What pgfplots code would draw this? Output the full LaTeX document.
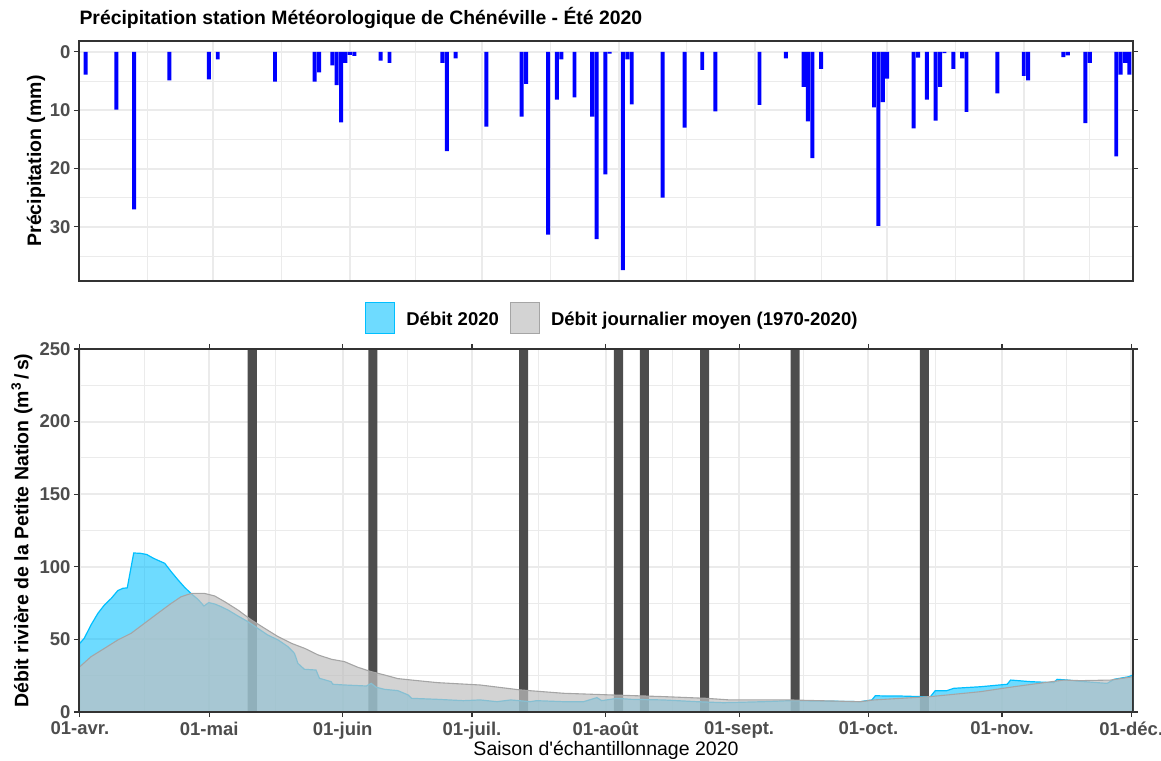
\documentclass[border=0pt]{standalone}
\usepackage{fontspec}
\setmainfont{Liberation Sans}
\usepackage{pgfplots}
\usepackage{pgfplotstable}
\pgfplotsset{compat=1.18}
\definecolor{deepsky}{RGB}{0,191,255}
\definecolor{meangray}{RGB}{192,192,192}
\definecolor{meanline}{RGB}{165,165,165}
\definecolor{darkbar}{RGB}{77,77,77}
\definecolor{gridc}{RGB}{235,235,235}
\definecolor{framec}{RGB}{51,51,51}
\definecolor{tickc}{RGB}{77,77,77}

\pgfplotstableread{
day mm
1 3.9
8 9.9
12 27.0
20 4.9
29 4.7
31 1.3
44 5.1
53 5.1
54 3.5
57 2.3
58 5.7
59 12.1
60 1.9
61 0.5
62 0.7
68 1.5
70 1.9
82 1.9
83 17.0
85 1.1
92 12.8
100 11.1
101 5.5
106 31.3
108 8.2
109 1.3
112 7.8
116 11.1
117 32.1
119 21.0
120 0.3
123 37.4
124 1.3
125 9.0
132 25.0
137 13.0
141 3.1
144 10.2
154 9.1
160 1.1
164 6.0
165 11.9
166 18.2
168 2.9
180 9.5
181 29.8
182 8.6
183 4.6
189 13.1
190 1.0
192 8.2
194 11.8
195 6.0
196 0.2
198 2.9
200 1.1
201 10.3
208 7.1
214 4.1
215 4.9
223 0.9
224 0.6
228 12.2
229 1.9
235 17.9
236 3.9
237 1.9
238 3.9
}\precip

\pgfplotstableread{
day q
0 47.3
1 50.7
2.6 60
4.2 68
5.7 73.7
7.3 78.3
8.8 83.6
10 85.2
11 85.5
12.5 109.5
14 109.3
15.5 108.5
17 106
18.1 104.5
19.7 102.4
21.2 96.6
22.8 90.9
24.3 85.9
25.9 81.3
27.4 77.6
28.8 73
29.9 75.3
31.3 74.4
32.8 72.5
34.4 70.2
36.7 66.1
39 62.2
41.3 57.6
43.6 53
46 49.6
48.3 45
49.8 40.4
50.6 33.5
52.1 29.4
54.8 28.9
55.6 23.2
58.3 20.9
58.7 19.1
61.4 18.6
66.5 17.9
67.6 19.7
68.8 17
70.7 15.6
73.8 14.7
76.2 11.7
77 9.4
83.1 8.7
89 7.8
92.9 8.3
96.8 7.1
100 8.3
104.5 7.1
106 7.8
112.2 7.1
116.9 7.1
120 9.9
121.1 7.8
124.6 9.4
128 8.7
135.4 8.3
143.2 7.1
149.4 6.4
158.7 7.1
164.8 7.8
170.3 7.6
181.1 7.1
183.8 8.3
184.6 11.2
187.3 11
190.4 11
195 10.6
197.4 10.6
198.5 14.7
201.2 14.7
202.8 16.3
209 17.4
215.2 19.1
216 22
220.6 20.9
226 20.2
226.8 22.5
229.2 22
232.2 21.1
238.4 19.7
240 22.5
243.4 24.3
244.4 25.5
}\flowA

\pgfplotstableread{
day q
0 31.2
2.6 38.1
5.7 43.8
8.8 49.6
11.9 54.2
15 61.1
18.1 68
21.2 74.8
23.5 79.4
25.9 81.7
28.9 81.7
31.3 79.9
33.6 76
36.7 70.2
39.8 63.4
42.9 57.6
46 51.9
49.1 47.3
52.2 43.8
55.3 39.3
58.4 36.3
61.4 34.7
64.5 30.8
67.6 27.8
70.7 25.5
73.8 23
77 22
83.1 20.2
92.9 18.6
102.2 15.2
112.2 12.9
123.8 11.7
135.4 10.6
145.5 9.4
150.9 8.3
164.8 8.3
181.1 7.1
184.2 8.3
197.4 10.6
209 14
216.7 17.4
228.3 22
232.2 21.6
239.2 22
244.4 24.3
}\flowM

\pgfplotstableread{
day h
40 260
68 260
103 260
125 260
131 260
145 260
166 260
196 260
}\samples

\pgfplotsset{
 panel/.style={
  scale only axis, width=1054pt,
  grid=both,
  major grid style={draw=gridc, line width=1.9pt},
  minor grid style={draw=gridc, line width=0.95pt},
  axis line style={draw=framec, line width=1.1pt},
  tick align=outside,
  major tick length=5pt, minor tick length=0pt,
  tick style={draw=framec, line width=1.1pt},
  ticklabel style={font=\fontsize{18.5}{20}\selectfont\bfseries, text=tickc},
  /pgf/number format/assume math mode=true,
  label style={font=\fontsize{19.5}{22}\selectfont\bfseries},
 },
}

\begin{document}
\begin{tikzpicture}
\useasboundingbox (-79pt,-48pt) rectangle (1082pt,712pt);
% top panel
\begin{axis}[panel,
 at={(0pt,431pt)}, anchor=south west, height=240pt,
 xmin=-0.5, xmax=238.8, ymin=-1.87, ymax=39.27, y dir=reverse,
 xtick={30,61,91,122,153,183,214}, xticklabels={{},{},{},{},{},{},{}},
 xtick style={draw=none},
 minor xtick={15,45.5,76,106.5,137.5,168,198.5,229},
 ytick={0,10,20,30}, minor ytick={5,15,25,35},
 ylabel={Précipitation (mm)},
 ylabel style={at={(axis description cs:-0.0408,0.5)}, anchor=center},
 title={Précipitation station Météorologique de Chénéville - Été 2020},
 title style={at={(axis description cs:0,1)}, anchor=base west, yshift=10pt, xshift=-3pt, font=\fontsize{19.4}{22}\selectfont\bfseries},
]
\addplot[ybar, bar width=0.9, fill=blue, draw=none] table[x=day, y=mm] {\precip};
\draw[framec, line width=1.1pt] (rel axis cs:0,0) rectangle (rel axis cs:1,1);
\end{axis}
% bottom panel
\begin{axis}[panel,
 at={(0pt,0pt)}, anchor=south west, height=363pt,
 xmin=-0.2, xmax=244.4, ymin=0, ymax=250,
 xtick={0,30,61,91,122,153,183,214,244},
 xticklabels={01-avr.,01-mai,01-juin,01-juil.,01-août,01-sept.,01-oct.,01-nov.,01-déc.},
 xticklabel style={yshift=-1.5pt},
 minor xtick={15,45.5,76,106.5,137.5,168,198.5,229},
 ytick={0,50,100,150,200,250}, minor ytick={25,75,125,175,225},
 ylabel={Débit rivière de la Petite Nation (m\textsuperscript{3}\,/\,s)},
 ylabel style={at={(axis description cs:-0.0541,0.5)}, anchor=center},
 xlabel={Saison d\textquotesingle échantillonnage 2020},
 xlabel style={at={(axis description cs:0.5,0)}, anchor=base, yshift=-43pt, font=\fontsize{19.5}{22}\selectfont\mdseries},
 legend style={at={(axis description cs:0.506,1)}, anchor=center, yshift=31pt, draw=none, fill=none,
   legend columns=2, font=\fontsize{18.5}{20}\selectfont\bfseries,
   /tikz/every odd column/.append style={column sep=9pt},
   /tikz/every even column/.append style={column sep=9pt}},
 legend cell align=left,
]
\addplot[ybar, bar width=2.1, fill=darkbar, draw=none, forget plot] table[x=day, y=h] {\samples};
\addplot[draw=none, fill=deepsky, fill opacity=0.57,
  legend image code/.code={\draw[fill=deepsky, fill opacity=0.57, draw=deepsky, line width=1.2pt] (0pt,-14pt) rectangle (29pt,17pt);}]
  table[x=day, y=q] {\flowA} \closedcycle;
\addlegendentry{Débit 2020}
\addplot[deepsky, line width=1.2pt, forget plot] table[x=day, y=q] {\flowA};
\addplot[draw=none, fill=meangray, fill opacity=0.7,
  legend image code/.code={\draw[fill=meangray, fill opacity=0.7, draw=meanline, line width=1.2pt] (0pt,-14pt) rectangle (29pt,17pt);}]
  table[x=day, y=q] {\flowM} \closedcycle;
\addlegendentry{Débit journalier moyen (1970-2020)}
\addplot[meanline, line width=1.1pt, forget plot] table[x=day, y=q] {\flowM};
\draw[framec, line width=1.1pt] (rel axis cs:0,0) rectangle (rel axis cs:1,1);
\end{axis}
\end{tikzpicture}
\end{document}
